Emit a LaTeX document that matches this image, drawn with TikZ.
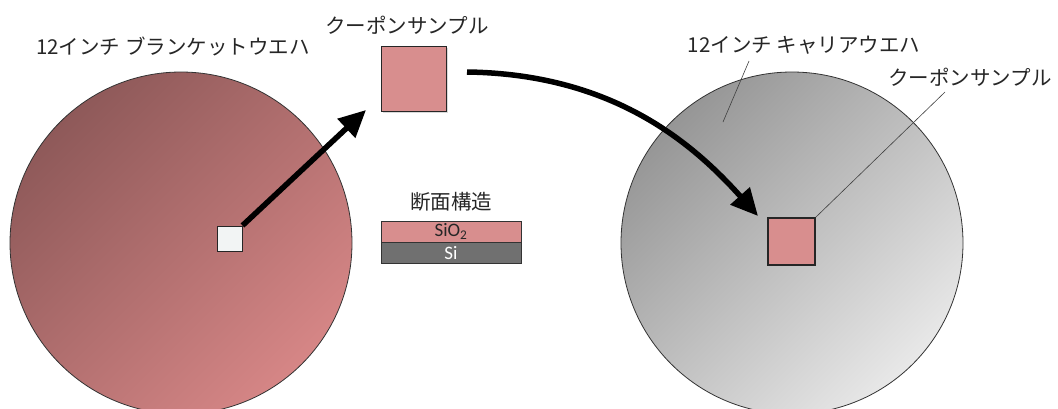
\documentclass[tikz,border=0pt]{standalone}
\usepackage{fontspec}
\setmainfont{Carlito}
\newfontfamily\jp{Noto Sans CJK JP}
\usetikzlibrary{arrows.meta,shadows}
\definecolor{waferred1}{HTML}{8E5959}
\definecolor{waferred2}{HTML}{D68686}
\definecolor{wafergray1}{HTML}{969696}
\definecolor{wafergray2}{HTML}{E8E8E8}
\definecolor{coupon}{HTML}{D88E8E}
\definecolor{sigray}{HTML}{707070}
\definecolor{chipwhite}{HTML}{F2F4F4}
\begin{document}
\begin{tikzpicture}[x=1pt,y=-1pt,
  lbl/.style={font=\jp\fontsize{20.5}{24}\selectfont, inner sep=0pt, text=black!85},
  wafer/.style={circle, draw=black!80, line width=0.8pt, minimum size=342pt, inner sep=0pt},
  sq/.style={draw=black!85, inner sep=0pt},
  bigarrow/.style={line width=5.5pt, -{Triangle[length=27pt,width=25pt]}},
  leader/.style={draw=black!75, line width=0.6pt},
  layer/.style={draw=black!80, line width=0.8pt, minimum width=140pt, minimum height=21pt, inner sep=0pt, font=\fontsize{19}{21}\selectfont}
]
\useasboundingbox (0,0) rectangle (1058,408);
\clip (0,0) rectangle (1058,408);
% wafers
\node[wafer, top color=waferred1, bottom color=waferred2, shading angle=45] (blanket) at (181,243) {};
\node[wafer, top color=wafergray1, bottom color=wafergray2, shading angle=45] (carrier) at (792,243) {};
% labels
\node[lbl, anchor=west] (lblanket) at (36,46) {12インチ ブランケットウエハ};
\node[lbl] (lcoupon1) at (407,25) {クーポンサンプル};
\node[lbl] (lcarrier) at (804,45) {12インチ キャリアウエハ};
\node[lbl] (lcoupon2) at (970,77) {クーポンサンプル};
% chip on blanket
\node[sq, fill=chipwhite, minimum size=25pt, line width=1pt, drop shadow={shadow xshift=1pt, shadow yshift=-1pt, opacity=0.3}] (chip) at (229.5,238.5) {};
% coupons
\node[sq, fill=coupon, minimum size=65pt, line width=1pt, drop shadow={shadow xshift=1.5pt, shadow yshift=-1.5pt, opacity=0.3}] (coupon1) at (413.5,79) {};
\node[sq, fill=coupon, minimum size=47pt, line width=1.8pt, drop shadow={shadow xshift=1pt, shadow yshift=-1pt, opacity=0.3}] (coupon2) at (791.5,241.5) {};
% cross-section
\node[lbl] (lsection) at (451,202) {断面構造};
\node[layer, fill=coupon, text=black!85] (sio2) at (451,231.5) {SiO\textsubscript{2}};
\node[layer, fill=sigray, text=white, anchor=north] (si) at (sio2.south) {Si};
% arrows
\coordinate (a1end) at (366,110);
\draw[bigarrow] (chip.north east) -- (a1end);
\coordinate (a2start) at (467,72);
\coordinate (a2end) at (758,216);
\draw[bigarrow] (a2start) .. controls (610,74) and (690,140) .. (a2end);
% leaders
\coordinate (carrierpt) at (723,122);
\draw[leader] (749,61) -- (carrierpt);
\draw[leader] (945,92) -- (coupon2.north east);
\end{tikzpicture}
\end{document}
